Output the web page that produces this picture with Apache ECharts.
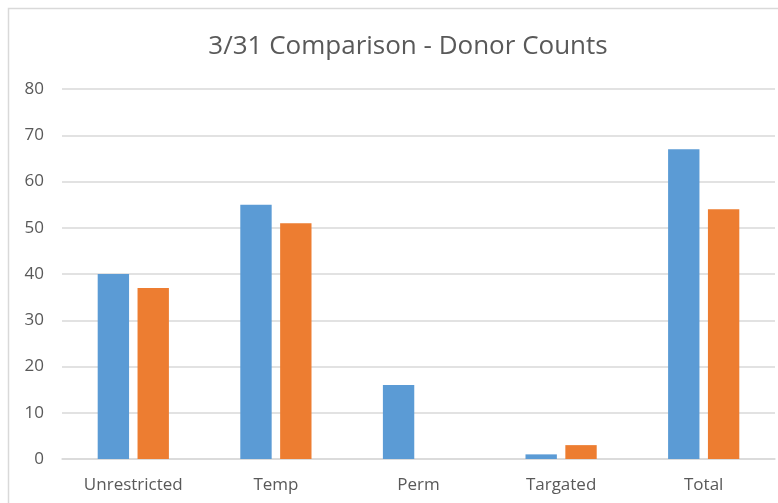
<!DOCTYPE html>
<html>
<head>
<meta charset="utf-8">
<script src="https://cdn.jsdelivr.net/npm/echarts@6/dist/echarts.min.js"></script>
<style>
    html, body { margin: 0; padding: 0; background: #fff; }
    #chart { width: 778px; height: 503px; }
</style>
</head>
<body>
<div id="chart"></div>
<script>
(function () {
    var categories = ['Unrestricted', 'Temp', 'Perm', 'Targated', 'Total'];
    var series1 = [40, 55, 16, 1, 67];
    var series2 = [37, 51, 0, 3, 54];
    var yTicks = [0, 80, 10]; // min, max, interval

    var myChart = echarts.init(document.getElementById('chart'));

    var gridColor = '#d9d9d9',
        labelColor = '#595959',
        fontFamily = '"Open Sans", "Noto Sans", sans-serif';

    var option = {
        animation: false,
        backgroundColor: '#fff',
        graphic: [{
            type: 'rect',
            shape: {x: 8.5, y: 8.5, width: 900, height: 700},
            style: {fill: 'none', stroke: gridColor, lineWidth: 1.5},
            silent: true
        }],
        title: {
            text: '3/31 Comparison - Donor Counts',
            left: 403,
            textAlign: 'center',
            top: 29,
            textStyle: {
                color: labelColor,
                fontFamily: fontFamily,
                fontSize: 26,
                fontWeight: 'normal'
            }
        },
        grid: {
            left: 62,
            right: 3,
            top: 89,
            bottom: 44
        },
        xAxis: {
            type: 'category',
            data: categories,
            axisLine: {lineStyle: {color: gridColor, width: 1.5}},
            axisTick: {show: false},
            axisLabel: {
                color: labelColor,
                fontFamily: fontFamily,
                fontSize: 17,
                margin: 18
            }
        },
        yAxis: {
            type: 'value',
            min: yTicks[0],
            max: yTicks[1],
            interval: yTicks[2],
            axisLine: {show: false},
            axisTick: {show: false},
            axisLabel: {
                color: labelColor,
                fontFamily: fontFamily,
                fontSize: 17,
                margin: 18
            },
            splitLine: {lineStyle: {color: gridColor, width: 1.5}}
        },
        series: [
            {
                name: 'Series1',
                type: 'bar',
                data: series1,
                barWidth: '22%',
                barGap: '27%',
                itemStyle: {color: '#5b9bd5'}
            },
            {
                name: 'Series2',
                type: 'bar',
                data: series2,
                barWidth: '22%',
                barGap: '27%',
                itemStyle: {color: '#ed7d31'}
            }
        ]
    };

    myChart.setOption(option);
})();
</script>
</body>
</html>
